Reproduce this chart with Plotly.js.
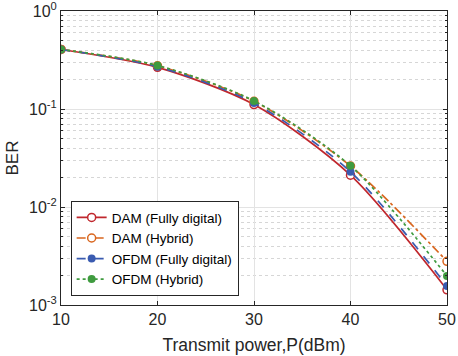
<!DOCTYPE html>
<html>
<head>
<meta charset="utf-8">
<script src="https://cdn.plot.ly/plotly-3.0.1.min.js"></script>
<style>
  html, body { margin: 0; padding: 0; background: #fff; }
  #chart { width: 458px; height: 356px; }
</style>
</head>
<body>
<div id="chart"></div>
<script>
// transmit power (dBm)
var power = [10, 20, 30, 40, 50];

// BER values
var damFull   = [0.405, 0.266, 0.111, 0.0211, 0.00143];
var damHybrid = [0.405, 0.276, 0.120, 0.0262, 0.00279];
var ofdmFull  = [0.405, 0.270, 0.115, 0.0229, 0.00156];
var ofdmHyb   = [0.405, 0.278, 0.121, 0.0263, 0.00198];

var names = ['DAM (Fully digital)', 'DAM (Hybrid)', 'OFDM (Fully digital)', 'OFDM (Hybrid)'];

var yTickVals = [1e-3, 1e-2, 1e-1, 1];
var yTickText = ['10<sup>-3</sup>', '10<sup>-2</sup>', '10<sup>-1</sup>', '10<sup>0</sup>'];
var xTickVals = [10, 20, 30, 40, 50];

function series(y, name, color, dash, open) {
  return {
    x: power, y: y, name: name,
    type: 'scatter', mode: 'lines+markers',
    line: {color: color, width: 1.7, dash: dash, shape: 'spline', smoothing: 0.8},
    marker: {symbol: 'circle', size: 8, color: open ? '#fff' : color,
             line: {color: color, width: open ? 1.5 : 0}}
  };
}

var data = [
  series(damFull,   names[0], '#c0272d', 'solid',   true),
  series(damHybrid, names[1], '#d9661e', 'dashdot', true),
  series(ofdmFull,  names[2], '#3a5bb0', 'dash',    false),
  series(ofdmHyb,   names[3], '#3f9b3f', 'dot',     false)
];

var layout = {
  width: 458, height: 356,
  margin: {l: 61, r: 11, t: 11, b: 51},
  paper_bgcolor: '#fff', plot_bgcolor: '#fff',
  font: {family: 'Liberation Sans, Arial, sans-serif', size: 16, color: '#262626'},
  showlegend: true,
  legend: {
    x: 0.025, y: 0.03, xanchor: 'left', yanchor: 'bottom',
    bgcolor: '#fff', bordercolor: '#262626', borderwidth: 1,
    font: {size: 13.5, color: '#000'}, tracegroupgap: 0, itemwidth: 30
  },
  xaxis: {
    range: [10, 50], tickvals: xTickVals,
    ticks: 'inside', ticklen: 4, tickcolor: '#262626',
    tickfont: {size: 16}, ticklabeloverflow: 'allow',
    showline: true, linecolor: '#262626', linewidth: 1, mirror: 'ticks',
    showgrid: true, gridcolor: '#e3e3e3', zeroline: false,
    title: {text: 'Transmit power,P(dBm)', standoff: 11, font: {size: 17.5}}
  },
  yaxis: {
    type: 'log', range: [-3, 0],
    tickvals: yTickVals, ticktext: yTickText,
    ticks: 'inside', ticklen: 4, tickcolor: '#262626',
    tickfont: {size: 16}, ticklabeloverflow: 'allow',
    showline: true, linecolor: '#262626', linewidth: 1, mirror: 'ticks',
    showgrid: true, gridcolor: '#e3e3e3', zeroline: false,
    minor: {dtick: 'D1', showgrid: true, gridcolor: '#d6d6d6', griddash: 'dot',
            ticks: 'inside', ticklen: 2, tickcolor: '#262626'},
    title: {text: 'BER', standoff: 6, font: {size: 17}}
  }
};

Plotly.newPlot('chart', data, layout, {displayModeBar: false, staticPlot: true});
</script>
</body>
</html>
